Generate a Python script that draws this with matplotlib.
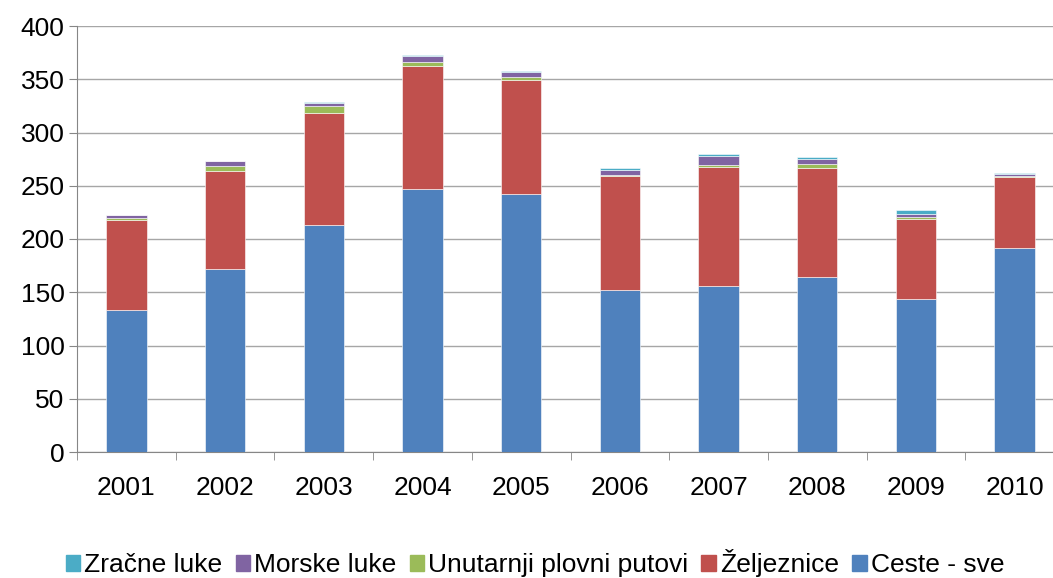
import numpy as np
import matplotlib
matplotlib.use('Agg')
import matplotlib.pyplot as plt
from matplotlib.patches import Patch

plt.rcParams['font.family'] = ['Liberation Sans', 'DejaVu Sans']

years = ['2001', '2002', '2003', '2004', '2005', '2006', '2007', '2008', '2009', '2010']
ceste = [133, 172, 213, 247, 242, 152, 156, 164, 144, 192]
zeljeznice = [85, 92, 105, 115, 107, 107, 112, 103, 75, 66]
unutarnji = [1.5, 5, 7, 4, 3, 1.3, 1.5, 3, 1.5, 1]
morske = [3, 4, 3, 5.5, 4.5, 4.3, 8, 5, 3, 2]
zracne = [0.4, 0.6, 1, 1.3, 0.8, 2, 2, 1.7, 3.5, 1]

series = [
    ('Ceste - sve', ceste, '#4F81BD'),
    ('Željeznice', zeljeznice, '#C0504D'),
    ('Unutarnji plovni putovi', unutarnji, '#9BBB59'),
    ('Morske luke', morske, '#8064A2'),
    ('Zračne luke', zracne, '#4BACC6'),
]

fig = plt.figure(figsize=(10.53, 5.78), dpi=100)
ax = fig.add_axes([77 / 1053, 1 - 452 / 578, 987 / 1053, 426 / 578])

x = np.arange(len(years))
bottom = np.zeros(len(years))
for name, vals, color in series:
    ax.bar(x, vals, 0.41, bottom=bottom, color=color, edgecolor='white', linewidth=0.4, zorder=3)
    bottom += np.array(vals)

ax.set_ylim(0, 400)
ax.set_xlim(-0.5, len(years) - 0.5)
ax.set_yticks(range(0, 401, 50))
ax.yaxis.grid(True, color='#A6A6A6', linewidth=1.0, zorder=0)
ax.set_xticks(x)
ax.set_xticklabels(years)
ax.set_xticks(np.arange(-0.5, len(years), 1), minor=True)
ax.tick_params(axis='x', which='major', length=0, pad=17, labelsize=19)
ax.tick_params(axis='x', which='minor', length=6, color='#868686')
ax.tick_params(axis='y', length=6, color='#868686', labelsize=19, pad=3)
for s in ['top', 'right']:
    ax.spines[s].set_visible(False)
ax.spines['left'].set_color('#868686')
ax.spines['bottom'].set_color('#868686')

handles = [Patch(color=c, label=n) for n, _, c in reversed(series)]
fig.legend(handles=handles, loc='center', bbox_to_anchor=(535 / 1053, 1 - 563 / 578),
           ncol=5, frameon=False, fontsize=19, handlelength=0.55, handleheight=0.55,
           handletextpad=0.15, columnspacing=0.5)

fig.savefig('out.png', dpi=100)
